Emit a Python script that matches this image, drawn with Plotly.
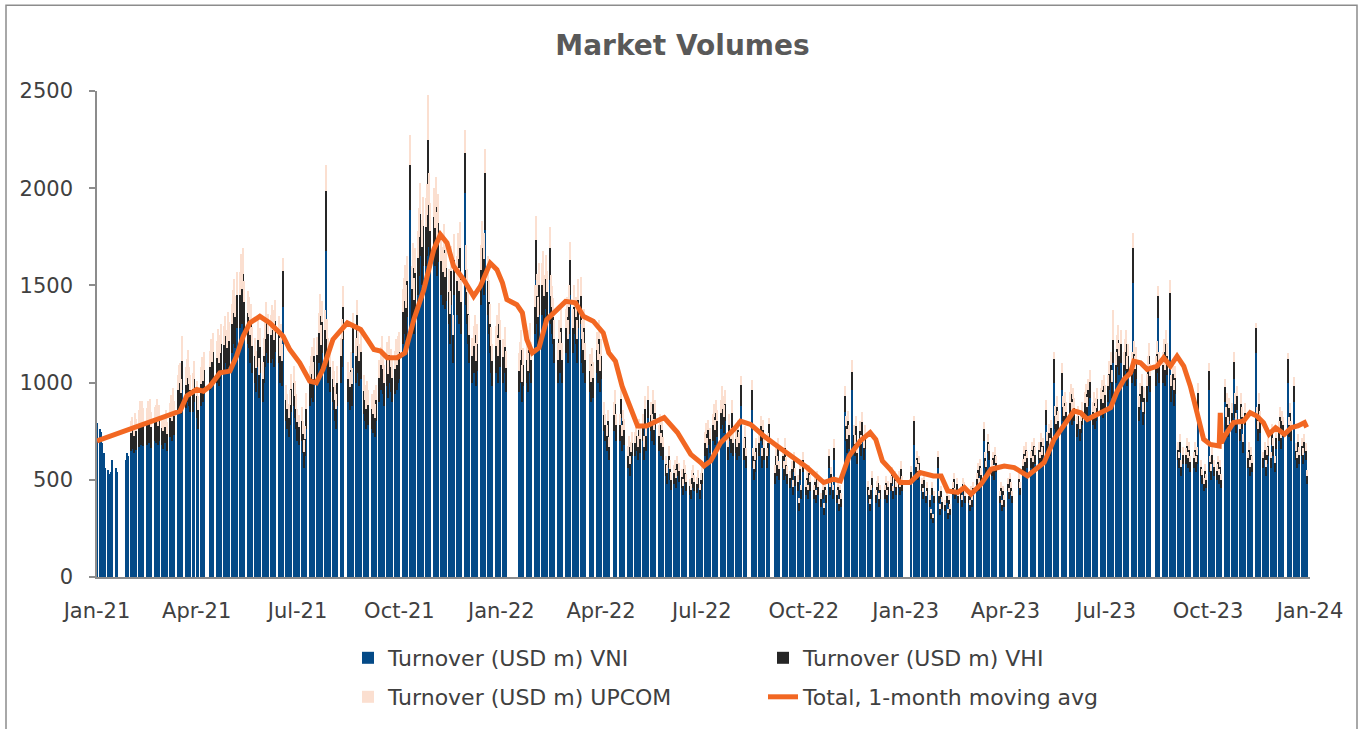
import pandas as pd
import plotly.graph_objects as go

TITLE = "Market Volumes"
NAME_VNI = "Turnover (USD m) VNI"
NAME_VHI = "Turnover (USD m) VHI"
NAME_UPCOM = "Turnover (USD m) UPCOM"
NAME_AVG = "Total, 1-month moving avg"

FIRST_DAY = "2021-01-01"
LAST_DAY = "2023-12-29"

# daily turnover (USD m), one row per week Mon..Fri, None = no trading
VNI = [
    790,
    760, 745, 690, 640, 560,
    550, 530, 525, 540, 600,
    560, 540, None, None, None,
    None, None, 600, 640, 620,
    650, 660, 640, 670, 655,
    670, 690, 680, 700, 675,
    680, 700, 690, 710, 665,
    700, 690, 720, 680, 700,
    680, 660, 690, 700, 650,
    720, 740, 700, 760, 730,
    850, 880, 900, 840, 960,
    870, 900, 940, 880, 850,
    850, 900, None, 820, 760,
    880, 920, 900, 940, None,
    None, 960, 1000, 980, 1020,
    1000, 1040, 980, 1020, 1060,
    1060, 1100, 1050, 1120, 1080,
    1150, 1200, 1250, 1180, 1280,
    1280, 1340, 1300, 1360, 1250,
    1200, 1180, 1100, 1150, 1050,
    1000, 950, 1080, 920, 1050,
    900, 1000, 1080, 1150, 1100,
    1100, 1140, 1120, 1080, 1160,
    1100, 1000, 1060, 980, 1390,
    800, 760, 720, 780, 850,
    880, 820, 760, 700, 680,
    700, 640, 560, 620, 760,
    880, 920, 960, 900, 1000,
    1000, 1100, 1180, 1050, 1150,
    1120, 1675, 1080, 1000, 950,
    900, 860, 800, 760, 880,
    1000, 1080, 1220, None, None,
    900, 860, 940, 880, 1150,
    1000, 1200, 1050, 980, 1020,
    840, 800, 760, 820, 780,
    760, 740, 780, 720, 800,
    900, 960, 1000, 940, 880,
    980, 920, 1000, 950, 900,
    940, 990, 960, 1000, 1020,
    1200, 1250, 1300, 1220, 1340,
    1890, 1300, 1400, 1250, 1380,
    1450, 1550, 1650, 1500, 1600,
    1600, 1650, 1966, 1700, 1580,
    1650, 1600, 1700, 1550, 1620,
    1450, 1400, 1500, 1380, 1420,
    1300, 1200, 1400, 1100, 1450,
    1350, 1450, 1300, 1500, 1250,
    1975, 1400, 1300, 1200, 1100,
    1000, 1050, 1100, 980, 1060,
    None, 1400, 1500, 1450, 1786,
    1350, 1250, 1150, 1050, 980,
    1050, 1100, 1000, 1150, 1080,
    1000, 1050, 950, None, None,
    None, None, None, None, None,
    950, 1000, 1050, 900, 980,
    1000, 950, 1050, 1080, 1000,
    1250, 1530, 1300, 1200, 1350,
    1350, 1400, 1300, 1380, 1320,
    1530, 1300, 1250, 1200, 1100,
    1000, 1100, 1050, 1150, 1000,
    1150, 1200, 1100, 1250, 1450,
    1150, 1250, 1200, 1100, 1280,
    1300, 1100, 1050, 1150, 1000,
    None, 950, 900, 980, 920,
    1050, 1000, 1100, 950, 1020,
    750, 700, 650, 720, 600,
    None, None, 750, 800, 700,
    700, 820, 650, 720, 680,
    560, 600, 520, 580, 620,
    620, 650, 600, 680, 640,
    700, 600, 780, 650, 820,
    750, 700, 800, 680, 760,
    650, 700, 620, 680, 600,
    520, 480, 560, 500, 450,
    480, 500, 460, 520, 490,
    460, 420, 500, 480, 440,
    420, 400, 460, 480, 440,
    430, 460, 400, 450, 480,
    620, 660, 600, 680, 640,
    700, 740, 680, 760, 720,
    760, 820, 780, 740, 800,
    600, 700, 640, 760, 620,
    640, 600, 680, 620, 880,
    600, 650, 560, None, None,
    860, 560, 500, 540, 600,
    620, 700, 560, 680, 600,
    560, 620, 700, None, None,
    480, 560, 520, 600, 500,
    560, 500, 600, 520, 480,
    460, 500, 420, 540, 470,
    440, 340, 500, 400, 540,
    420, 460, 400, 480, 440,
    400, 440, 380, 460, 420,
    360, 400, 320, 420, 380,
    560, 420, 480, 400, 600,
    380, 420, 340, 400, 360,
    850, 700, 640, 720, 660,
    960, 660, 620, 700, 580,
    680, 620, 720, 600, 660,
    420, 380, 340, 400, 460,
    380, 420, 440, 360, 400,
    None, 400, 440, 380, 420,
    440, 480, 400, 460, 420,
    460, 420, 500, 440, None,
    None, None, None, None, 500,
    680, 520, 560, 500, 540,
    440, 400, 460, 380, 420,
    360, 300, 420, 280, 380,
    560, 380, 320, 400, 350,
    340, 380, 300, 360, 320,
    420, 460, 400, 440, 380,
    400, 360, 440, 420, 380,
    380, 340, 400, 360, 420,
    460, 500, 440, 520, 480,
    700, 560, 520, 640, 600,
    520, 560, 500, 580, 540,
    380, 420, 340, 400, 360,
    440, 400, 460, 420, 380,
    None, None, None, 460, 420,
    520, 580, 540, 600, 560,
    560, 600, 540, 620, 580,
    600, 560, 640, 580, 620,
    780, 640, 680, 620, 700,
    1000, 760, 720, 800, 740,
    960, 800, 760, 820, 780,
    820, 860, 780, 840, 800,
    720, 760, 700, 740, 780,
    820, 860, 800, 880, 920,
    780, 820, 760, 800, 840,
    840, 880, 820, 900, 860,
    900, 960, 1000, 920, 1100,
    1000, 1080, 1120, 1040, 1100,
    1000, 1060, 1100, 980, 1040,
    1000, 1513, 1050, 980, 1020,
    800, 860, 900, 780, 840,
    900, 980, 1040, 950, None,
    None, 980, 1050, 1333, 1000,
    1000, 1060, 980, 1100, 1040,
    1324, 900, 960, 880, 940,
    600, 560, 640, 520, 580,
    580, 620, 560, 600, 540,
    560, 600, 540, 580, 860,
    520, 480, 440, 500, 460,
    960, 540, 500, 580, 520,
    500, 540, 480, 520, 460,
    900, 760, 820, 720, 800,
    780, 1020, 820, 740, 860,
    700, 820, 760, 640, 780,
    560, 600, 520, 580, 540,
    1150, 760, 700, 820, 740,
    560, 600, 520, 580, 620,
    560, 680, 620, 540, 660,
    700, 760, 660, 740, 720,
    None, 1000, 720, 780, 700,
    900, 600, 560, 640, 580,
    620, 580, 640, 600, 480,
]

VHI = [
    None,
    None, None, None, None, None,
    None, None, None, None, None,
    None, None, None, None, None,
    None, None, None, None, None,
    90, 95, 85, 100, 95,
    110, 120, 105, 115, 110,
    110, 115, 100, 120, 105,
    100, 110, 115, 95, 105,
    85, 90, 80, 95, 85,
    100, 110, 105, 120, 100,
    110, 120, 115, 105, 150,
    120, 125, 130, 115, 110,
    115, 120, None, 110, 100,
    115, 120, 110, 125, None,
    None, 120, 130, 125, 135,
    125, 135, 120, 130, 140,
    135, 140, 130, 145, 135,
    150, 160, 165, 155, 170,
    170, 190, 180, 200, 165,
    160, 155, 145, 150, 140,
    135, 125, 140, 120, 135,
    120, 135, 145, 155, 150,
    145, 150, 150, 140, 155,
    145, 135, 140, 130, 185,
    110, 105, 100, 105, 115,
    120, 110, 105, 95, 90,
    100, 95, 85, 90, 105,
    120, 125, 130, 120, 135,
    140, 155, 165, 145, 160,
    150, 310, 145, 135, 130,
    120, 115, 110, 105, 120,
    135, 145, 170, None, None,
    120, 115, 125, 115, 130,
    135, 150, 140, 130, 135,
    115, 110, 105, 110, 105,
    105, 100, 105, 100, 110,
    125, 130, 140, 130, 120,
    135, 125, 140, 130, 125,
    130, 135, 130, 140, 140,
    165, 170, 180, 165, 185,
    230, 180, 190, 175, 185,
    190, 200, 215, 195, 205,
    200, 210, 282, 215, 200,
    200, 195, 205, 190, 200,
    175, 170, 180, 165, 170,
    165, 155, 175, 145, 180,
    175, 185, 170, 190, 165,
    205, 180, 165, 155, 145,
    135, 140, 145, 130, 140,
    None, 180, 190, 185, 290,
    175, 165, 150, 140, 130,
    140, 145, 135, 150, 140,
    130, 135, 125, None, None,
    None, None, None, None, None,
    110, 115, 120, 105, 110,
    115, 110, 120, 125, 115,
    140, 205, 145, 135, 150,
    150, 155, 145, 155, 145,
    160, 145, 140, 135, 125,
    115, 125, 120, 130, 115,
    130, 135, 125, 140, 180,
    130, 140, 135, 125, 145,
    145, 125, 120, 130, 115,
    None, 110, 105, 115, 105,
    120, 115, 125, 110, 115,
    85, 80, 75, 80, 70,
    None, None, 85, 90, 80,
    80, 95, 75, 80, 75,
    65, 70, 60, 65, 70,
    70, 75, 70, 75, 70,
    80, 70, 85, 75, 90,
    85, 80, 90, 75, 85,
    75, 80, 70, 75, 70,
    60, 55, 65, 55, 50,
    55, 55, 50, 60, 55,
    55, 50, 55, 55, 50,
    50, 45, 50, 55, 50,
    50, 50, 45, 50, 55,
    70, 75, 65, 75, 70,
    80, 85, 75, 85, 80,
    85, 90, 85, 85, 90,
    70, 80, 70, 85, 70,
    70, 70, 75, 70, 110,
    65, 70, 60, None, None,
    100, 60, 55, 60, 65,
    70, 75, 60, 75, 65,
    60, 70, 85, None, None,
    55, 60, 55, 65, 55,
    60, 55, 65, 55, 50,
    50, 55, 45, 60, 50,
    50, 40, 55, 45, 60,
    45, 50, 45, 55, 50,
    45, 50, 40, 50, 45,
    40, 45, 35, 45, 40,
    60, 45, 50, 45, 65,
    40, 45, 35, 45, 40,
    80, 75, 70, 80, 70,
    95, 70, 65, 75, 60,
    70, 65, 75, 65, 70,
    45, 40, 35, 45, 50,
    40, 45, 45, 40, 45,
    None, 45, 45, 40, 45,
    45, 50, 40, 50, 45,
    50, 45, 55, 45, None,
    None, None, None, None, 40,
    120, 45, 50, 45, 45,
    40, 35, 40, 35, 40,
    35, 30, 40, 25, 35,
    55, 35, 30, 40, 35,
    30, 35, 30, 35, 30,
    40, 45, 35, 40, 35,
    40, 35, 40, 40, 35,
    35, 30, 40, 35, 40,
    45, 50, 40, 50, 45,
    60, 50, 45, 55, 50,
    45, 50, 45, 50, 45,
    35, 40, 30, 40, 35,
    40, 35, 45, 40, 35,
    None, None, None, 45, 40,
    50, 55, 50, 55, 50,
    50, 55, 50, 55, 50,
    55, 50, 55, 50, 55,
    80, 60, 60, 55, 65,
    120, 70, 65, 75, 65,
    90, 75, 70, 75, 70,
    75, 80, 70, 75, 70,
    65, 70, 60, 65, 70,
    75, 80, 75, 80, 85,
    70, 75, 70, 70, 75,
    75, 80, 75, 80, 75,
    80, 85, 90, 85, 120,
    90, 95, 100, 95, 100,
    90, 95, 100, 90, 95,
    90, 180, 95, 90, 95,
    75, 80, 85, 70, 80,
    85, 90, 95, 85, None,
    None, 90, 95, 111, 90,
    90, 95, 85, 100, 95,
    137, 80, 85, 80, 85,
    55, 50, 55, 45, 50,
    50, 55, 50, 55, 50,
    50, 55, 50, 50, 85,
    45, 45, 40, 45, 40,
    100, 50, 45, 50, 45,
    45, 50, 45, 45, 40,
    75, 65, 70, 60, 70,
    65, 85, 70, 60, 70,
    60, 70, 65, 55, 65,
    50, 55, 45, 50, 45,
    130, 65, 60, 70, 65,
    50, 55, 45, 50, 55,
    50, 60, 55, 45, 55,
    60, 65, 55, 65, 60,
    None, 120, 60, 65, 60,
    80, 50, 50, 55, 50,
    55, 50, 55, 50, 40,
]

UPCOM = [
    None,
    None, None, None, None, None,
    None, None, None, None, None,
    None, None, None, None, None,
    None, None, None, None, None,
    60, 70, 55, 75, 65,
    80, 95, 75, 90, 85,
    80, 90, 75, 85, 80,
    75, 85, 80, 70, 80,
    60, 70, 60, 65, 60,
    75, 85, 80, 90, 75,
    80, 90, 85, 75, 130,
    90, 95, 100, 85, 80,
    85, 90, None, 80, 70,
    85, 90, 80, 95, None,
    None, 85, 95, 90, 100,
    90, 100, 85, 95, 100,
    95, 105, 90, 100, 95,
    105, 115, 120, 110, 120,
    120, 130, 125, 130, 110,
    110, 105, 100, 105, 95,
    95, 90, 100, 85, 95,
    85, 95, 100, 110, 105,
    105, 110, 105, 100, 110,
    100, 95, 100, 90, 65,
    80, 75, 70, 75, 80,
    85, 80, 75, 70, 65,
    75, 70, 60, 65, 80,
    85, 90, 95, 85, 95,
    95, 105, 110, 100, 110,
    105, 135, 100, 95, 90,
    90, 85, 80, 75, 85,
    95, 100, 105, None, None,
    85, 80, 90, 80, 80,
    95, 75, 100, 90, 95,
    85, 80, 75, 80, 75,
    75, 70, 75, 70, 80,
    90, 95, 100, 95, 90,
    95, 90, 100, 95, 90,
    95, 100, 95, 100, 100,
    115, 120, 125, 115, 125,
    155, 120, 130, 115, 125,
    140, 150, 160, 140, 150,
    150, 160, 231, 165, 145,
    150, 145, 155, 140, 150,
    130, 125, 135, 120, 125,
    120, 115, 130, 105, 135,
    125, 135, 120, 135, 115,
    120, 130, 120, 110, 105,
    95, 100, 105, 95, 100,
    None, 130, 140, 135, 128,
    125, 115, 105, 95, 90,
    100, 105, 95, 110, 100,
    95, 100, 90, None, None,
    None, None, None, None, None,
    90, 95, 100, 85, 90,
    95, 90, 100, 100, 95,
    110, 120, 115, 105, 115,
    115, 120, 110, 120, 110,
    111, 110, 105, 100, 95,
    90, 95, 90, 100, 90,
    100, 105, 95, 110, 95,
    100, 110, 105, 95, 110,
    100, 95, 90, 100, 90,
    None, 85, 80, 85, 80,
    90, 85, 95, 85, 90,
    65, 60, 55, 60, 50,
    None, None, 65, 70, 60,
    60, 70, 55, 60, 60,
    50, 55, 45, 50, 55,
    55, 60, 55, 60, 55,
    60, 55, 65, 55, 70,
    65, 60, 70, 60, 65,
    55, 60, 50, 55, 50,
    45, 40, 50, 45, 40,
    40, 45, 40, 45, 40,
    40, 35, 45, 40, 40,
    35, 35, 40, 40, 35,
    35, 40, 35, 35, 40,
    55, 55, 50, 55, 55,
    60, 65, 55, 65, 60,
    65, 70, 65, 60, 70,
    50, 60, 55, 65, 55,
    55, 50, 55, 55, 45,
    50, 55, 45, None, None,
    55, 45, 40, 45, 50,
    50, 55, 45, 55, 50,
    45, 50, 35, None, None,
    40, 45, 45, 50, 40,
    45, 40, 50, 40, 40,
    35, 40, 35, 45, 40,
    35, 25, 40, 30, 45,
    35, 40, 30, 40, 35,
    30, 35, 30, 35, 35,
    30, 30, 25, 35, 30,
    40, 30, 35, 30, 45,
    30, 30, 25, 30, 30,
    50, 55, 50, 55, 50,
    60, 50, 45, 55, 45,
    50, 45, 55, 45, 50,
    30, 30, 25, 30, 35,
    30, 30, 35, 30, 30,
    None, 30, 35, 30, 30,
    35, 35, 30, 35, 30,
    35, 30, 40, 35, None,
    None, None, None, None, 30,
    30, 35, 40, 35, 35,
    30, 25, 30, 25, 30,
    25, 20, 30, 20, 25,
    35, 25, 25, 30, 25,
    25, 25, 20, 25, 25,
    30, 30, 25, 30, 25,
    30, 25, 30, 30, 25,
    25, 25, 30, 25, 30,
    30, 35, 30, 35, 35,
    35, 35, 30, 40, 35,
    35, 35, 30, 40, 35,
    25, 30, 25, 30, 25,
    30, 25, 30, 30, 25,
    None, None, None, 30, 30,
    35, 40, 35, 40, 40,
    40, 40, 35, 40, 40,
    40, 35, 45, 40, 40,
    50, 45, 45, 40, 45,
    40, 50, 50, 55, 50,
    50, 55, 50, 55, 50,
    55, 55, 50, 55, 50,
    45, 50, 45, 50, 50,
    55, 55, 50, 60, 60,
    50, 55, 50, 50, 55,
    55, 55, 55, 60, 55,
    60, 65, 65, 60, 155,
    65, 70, 75, 70, 70,
    65, 70, 70, 65, 65,
    65, 77, 70, 65, 70,
    55, 60, 60, 50, 55,
    60, 65, 70, 60, None,
    None, 65, 70, 51, 65,
    65, 70, 65, 70, 70,
    69, 60, 65, 55, 60,
    40, 35, 40, 35, 40,
    35, 40, 35, 40, 35,
    35, 40, 35, 40, 55,
    35, 30, 30, 35, 30,
    40, 35, 35, 40, 35,
    35, 35, 30, 35, 30,
    45, 50, 55, 45, 50,
    50, 50, 55, 45, 55,
    45, 55, 50, 40, 50,
    35, 40, 35, 40, 35,
    27, 50, 45, 55, 50,
    35, 40, 35, 40, 40,
    35, 45, 40, 35, 45,
    45, 50, 40, 50, 45,
    None, 33, 45, 50, 45,
    50, 40, 35, 40, 40,
    40, 35, 40, 40, 30,
]

LINE_DATES = [
    "2021-01-01", "2021-03-17", "2021-03-23", "2021-04-01", "2021-04-07", "2021-04-13",
    "2021-04-22", "2021-05-01", "2021-05-07", "2021-05-13", "2021-05-19", "2021-05-28",
    "2021-06-06", "2021-06-18", "2021-06-24", "2021-07-03", "2021-07-12", "2021-07-18",
    "2021-07-24", "2021-08-02", "2021-08-15", "2021-08-27", "2021-09-02", "2021-09-08",
    "2021-09-14", "2021-09-20", "2021-09-29", "2021-10-06", "2021-10-14", "2021-10-23",
    "2021-11-01", "2021-11-07", "2021-11-13", "2021-11-19", "2021-11-28", "2021-12-07",
    "2021-12-13", "2021-12-22", "2021-12-28", "2022-01-02", "2022-01-06", "2022-01-15",
    "2022-01-20", "2022-01-24", "2022-01-29", "2022-02-04", "2022-02-11", "2022-02-20",
    "2022-02-28", "2022-03-09", "2022-03-16", "2022-03-25", "2022-04-03", "2022-04-08",
    "2022-04-14", "2022-04-20", "2022-04-27", "2022-05-04", "2022-05-12", "2022-05-28",
    "2022-06-09", "2022-06-21", "2022-06-30", "2022-07-03", "2022-07-09", "2022-07-18",
    "2022-07-30", "2022-08-05", "2022-08-14", "2022-08-26", "2022-09-07", "2022-09-19",
    "2022-10-04", "2022-10-19", "2022-10-28", "2022-11-03", "2022-11-11", "2022-11-21",
    "2022-11-30", "2022-12-05", "2022-12-11", "2022-12-18", "2022-12-27", "2023-01-05",
    "2023-01-14", "2023-01-26", "2023-02-02", "2023-02-08", "2023-02-17", "2023-02-23",
    "2023-03-01", "2023-03-10", "2023-03-19", "2023-03-31", "2023-04-09", "2023-04-21",
    "2023-04-30", "2023-05-06", "2023-05-15", "2023-05-24", "2023-06-02", "2023-06-08",
    "2023-06-14", "2023-06-26", "2023-07-05", "2023-07-11", "2023-07-17", "2023-07-23",
    "2023-07-26", "2023-08-01", "2023-08-07", "2023-08-16", "2023-08-22", "2023-08-28",
    "2023-09-03", "2023-09-09", "2023-09-15", "2023-09-21", "2023-09-27", "2023-10-03",
    "2023-10-11", "2023-10-12", "2023-10-13", "2023-10-16", "2023-10-24", "2023-11-02",
    "2023-11-08", "2023-11-14", "2023-11-20", "2023-11-25", "2023-12-01", "2023-12-09",
    "2023-12-15", "2023-12-21", "2023-12-27", "2023-12-29",
]
LINE_VALUES = [
    700, 854, 931, 965, 956, 982,
    1050, 1059, 1136, 1239, 1307, 1341,
    1307, 1239, 1170, 1102, 1008, 999,
    1068, 1222, 1307, 1273, 1222, 1170,
    1162, 1128, 1128, 1153, 1324, 1478,
    1684, 1761, 1718, 1598, 1530, 1444,
    1495, 1615, 1581, 1513, 1427, 1401,
    1359, 1222, 1153, 1179, 1324, 1376,
    1418, 1410, 1341, 1316, 1256, 1153,
    1110, 982, 879, 777, 777, 820,
    743, 631, 589, 571, 597, 691,
    760, 802, 785, 725, 674, 623,
    563, 486, 503, 494, 623, 700,
    743, 708, 597, 554, 486, 486,
    537, 520, 520, 443, 435, 460,
    426, 477, 554, 571, 563, 520,
    563, 589, 708, 777, 854, 845,
    811, 845, 871, 956, 1016, 1050,
    1110, 1102, 1068, 1085, 1128, 1085,
    1136, 1085, 982, 845, 708, 682,
    674, 845, 690, 725, 794, 802,
    845, 828, 794, 734, 768, 734,
    768, 777, 794, 770,
]

Y_TICKS = [0, 500, 1000, 1500, 2000, 2500]
X_RANGE = ["2021-01-01", "2024-01-01"]

days = pd.bdate_range(FIRST_DAY, LAST_DAY)
assert len(days) == len(VNI) == len(VHI) == len(UPCOM), (len(days), len(VNI), len(VHI), len(UPCOM))
assert len(LINE_DATES) == len(LINE_VALUES), (len(LINE_DATES), len(LINE_VALUES))

FONT = "DejaVu Sans"
TXT = "#404040"

fig = go.Figure()
fig.add_trace(go.Bar(x=days, y=VNI, name=NAME_VNI, marker=dict(color="#044A87", line=dict(width=0)),
                     legend="legend"))
fig.add_trace(go.Bar(x=days, y=VHI, name=NAME_VHI, marker=dict(color="#262626", line=dict(width=0)),
                     legend="legend"))
fig.add_trace(go.Bar(x=days, y=UPCOM, name=NAME_UPCOM, marker=dict(color="#FBDFD0", line=dict(width=0)),
                     legend="legend2"))
fig.add_trace(go.Scatter(x=pd.to_datetime(LINE_DATES), y=LINE_VALUES, name=NAME_AVG, mode="lines",
                         line=dict(color="#F26722", width=5), legend="legend2"))

L, R, T, B = 97, 55, 91, 151
W, H = 1365, 729
pw, ph = W - L - R, H - T - B


def px_x(x):
    return (x - L) / pw


def px_y(y):
    return (H - B - y) / ph


legend_common = dict(orientation="h", xanchor="left", yanchor="middle", x=px_x(348),
                     entrywidth=370, entrywidthmode="pixels", traceorder="normal",
                     font=dict(family=FONT, size=22, color=TXT), bgcolor="rgba(0,0,0,0)")

fig.update_layout(
    width=W, height=H, template="none",
    paper_bgcolor="white", plot_bgcolor="white",
    margin=dict(l=L, r=R, t=T, b=B),
    barmode="stack", bargap=0,
    title=dict(text=TITLE, x=0.5, xanchor="center", y=1 - 45 / H, yanchor="middle",
               font=dict(family=FONT, size=28, color="#595959", weight="bold")),
    showlegend=True,
    legend=dict(**legend_common, y=px_y(658)),
    legend2=dict(**legend_common, y=px_y(697)),
    xaxis=dict(type="date", range=X_RANGE, tick0="2021-01-01", dtick="M3", tickformat="%b-%y",
               showgrid=False, zeroline=False, showline=True, linecolor="#8C8C8C", linewidth=2,
               ticks="", ticklabelstandoff=14,
               tickfont=dict(family=FONT, size=21, color=TXT), automargin=False),
    yaxis=dict(range=[0, 2500], tickvals=Y_TICKS, showgrid=False, zeroline=False, showline=True,
               linecolor="#8C8C8C", linewidth=1.5, ticks="outside", ticklen=6, tickwidth=1.5,
               tickcolor="#8C8C8C", ticklabelstandoff=12,
               tickfont=dict(family=FONT, size=21, color=TXT), automargin=False),
    shapes=[dict(type="rect", xref="paper", yref="paper",
                 x0=px_x(6), x1=px_x(1357), y0=px_y(760), y1=px_y(5),
                 line=dict(color="#8C8C8C", width=1.5), fillcolor="rgba(0,0,0,0)", layer="below")],
)

fig.write_html("out.html", config={"displayModeBar": False},
               post_script="document.body.style.margin='0px';document.body.style.overflow='hidden';")
